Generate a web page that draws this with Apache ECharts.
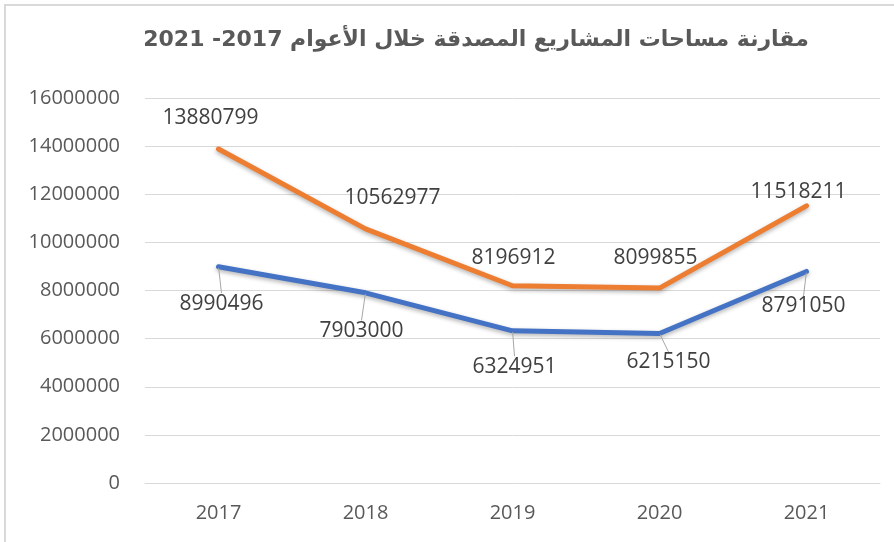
<!DOCTYPE html>
<html>
<head>
<meta charset="utf-8">
<script src="https://cdn.jsdelivr.net/npm/echarts@6/dist/echarts.min.js"></script>
<style>
  html, body { margin: 0; padding: 0; background: #fff; }
  #wrap { position: relative; width: 894px; height: 542px; }
  #frame { position: absolute; left: 4px; top: 4px; width: 900px; height: 560px;
           border-left: 2px solid #d9d9d9; border-top: 2px solid #d9d9d9; }
  #chart { position: absolute; left: 0; top: 0; width: 894px; height: 542px; }
</style>
</head>
<body>
<div id="wrap">
  <div id="frame"></div>
  <div id="chart"></div>
</div>
<script>
// البيانات
let years = ["2017", "2018", "2019", "2020", "2021"];
let orangeValues = [13880799, 10562977, 8196912, 8099855, 11518211];
let blueValues = [8990496, 7903000, 6324951, 6215150, 8791050];
let titleText = "مقارنة مساحات المشاريع المصدقة خلال الأعوام 2017- 2021";

// label offsets (px) from each point
let orangeOffsets = [[-8, -31], [27, -31], [1, -28], [-4, -30], [-8, -14]];
let blueOffsets = [[3, 37], [-4, 38], [2, 36], [9, 29], [-3, 35]];

let chart = echarts.init(document.getElementById("chart"));

function layoutFor(offsets) {
    return function (params) {
        let r = params.rect;
        let o = offsets[params.dataIndex];
        return {
            x: r.x + r.width / 2 + o[0],
            y: r.y + r.height / 2 + o[1],
            align: "center",
            verticalAlign: "middle"
        };
    };
}

let labelFont = {
    show: true,
    color: "#404040",
    fontSize: 21,
    fontFamily: "Open Sans"
};

let option = {
    animation: false,
    title: {
        text: "\u202B" + titleText + "\u202C",
        left: 471,
        top: 24,
        textAlign: "center",
        textStyle: {
            color: "#595959",
            fontSize: 22,
            fontWeight: "bold",
            fontFamily: "DejaVu Sans"
        }
    },
    grid: {
        left: 145,
        right: 14,
        top: 98,
        bottom: 59,
        containLabel: false
    },
    xAxis: {
        type: "category",
        data: years,
        boundaryGap: true,
        axisLine: { lineStyle: { color: "#d9d9d9", width: 1 } },
        axisTick: { show: false },
        axisLabel: {
            color: "#595959",
            fontSize: 20,
            fontFamily: "Open Sans",
            margin: 20
        }
    },
    yAxis: {
        type: "value",
        min: 0,
        max: 16000000,
        interval: 2000000,
        axisLine: { show: false },
        axisTick: { show: false },
        splitLine: { lineStyle: { color: "#d9d9d9", width: 1 } },
        axisLabel: {
            color: "#595959",
            fontSize: 20,
            fontFamily: "Open Sans",
            margin: 25,
            formatter: function (v) { return String(v); }
        }
    },
    series: [
        {
            name: "orange",
            type: "line",
            data: orangeValues,
            symbol: "circle",
            symbolSize: 2,
            color: "#ED7D31",
            lineStyle: {
                width: 5,
                color: "#ED7D31",
                cap: "round",
                shadowColor: "rgba(0,0,0,0.3)",
                shadowBlur: 4,
                shadowOffsetY: 2
            },
            label: labelFont,
            labelLine: { show: false },
            labelLayout: layoutFor(orangeOffsets)
        },
        {
            name: "blue",
            type: "line",
            data: blueValues,
            symbol: "circle",
            symbolSize: 2,
            color: "#4472C4",
            lineStyle: {
                width: 5,
                color: "#4472C4",
                cap: "round",
                shadowColor: "rgba(0,0,0,0.3)",
                shadowBlur: 4,
                shadowOffsetY: 2
            },
            label: labelFont,
            labelLine: { show: true, lineStyle: { color: "#a6a6a6", width: 1 } },
            labelLayout: layoutFor(blueOffsets)
        }
    ]
};
chart.setOption(option);
</script>
</body>
</html>
